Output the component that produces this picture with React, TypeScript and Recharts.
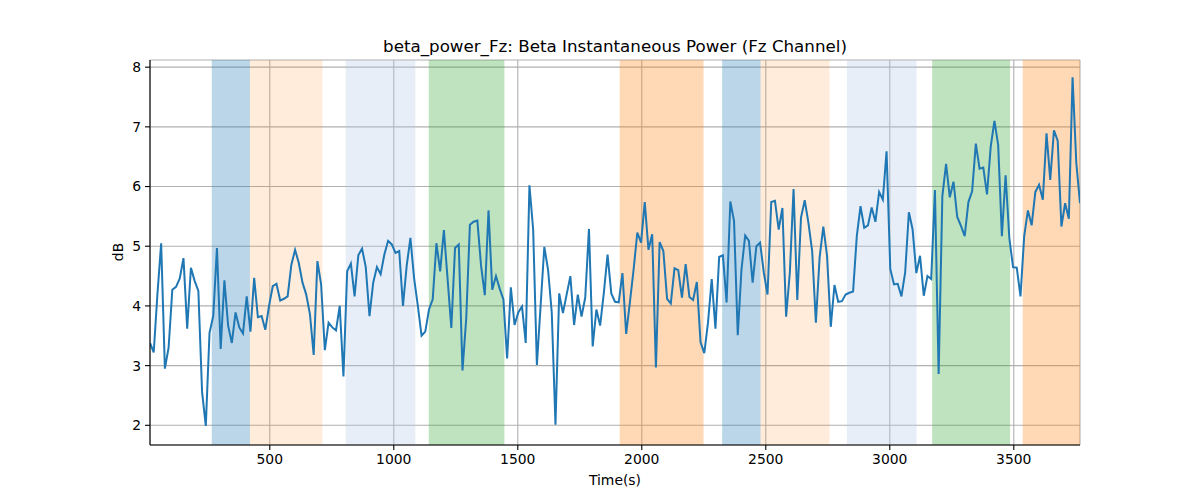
import { LineChart, Line, XAxis, YAxis, CartesianGrid, ReferenceArea } from "recharts";

// sampling of the power trace (seconds)
const T0 = 17;
const DT = 15;

// beta power, Fz channel (dB), one value per window
const POWER_DB = [
  3.38, 3.22, 4.2, 5.05, 2.95, 3.3, 4.27, 4.32, 4.46, 4.8,
  3.62, 4.64, 4.42, 4.25, 2.56, 1.99, 3.55, 3.83, 4.97, 3.28,
  4.43, 3.67, 3.38, 3.89, 3.64, 3.54, 4.16, 3.57, 4.47, 3.81,
  3.83, 3.6, 4.0, 4.33, 4.37, 4.09, 4.12, 4.16, 4.69, 4.94,
  4.72, 4.39, 4.19, 3.86, 3.18, 4.75, 4.36, 3.26, 3.72, 3.64,
  3.59, 4.0, 2.82, 4.58, 4.71, 4.16, 4.85, 4.96, 4.65, 3.83,
  4.39, 4.65, 4.53, 4.86, 5.09, 5.03, 4.89, 4.92, 4.0, 4.67,
  5.14, 4.46, 4.0, 3.5, 3.57, 3.94, 4.11, 5.05, 4.58, 5.27,
  4.45, 3.63, 4.97, 5.03, 2.92, 3.78, 5.36, 5.41, 5.43, 4.67,
  4.18, 5.6, 4.27, 4.5, 4.29, 4.11, 3.12, 4.31, 3.68, 3.89,
  3.99, 3.38, 6.02, 5.28, 3.01, 4.0, 4.99, 4.61, 3.89, 2.01,
  4.21, 3.88, 4.19, 4.5, 3.68, 4.19, 3.82, 4.14, 5.29, 3.32,
  3.94, 3.67, 4.22, 4.86, 4.21, 4.07, 4.06, 4.55, 3.53, 4.06,
  4.61, 5.23, 5.06, 5.74, 4.94, 5.2, 2.97, 5.07, 4.92, 4.12,
  4.04, 4.63, 4.6, 4.14, 4.7, 4.15, 4.1, 4.4, 3.39, 3.21,
  3.72, 4.45, 3.62, 4.82, 4.85, 4.06, 5.75, 5.42, 3.51, 4.61,
  5.18, 5.09, 4.39, 5.0, 5.06, 4.56, 4.19, 5.74, 5.76, 5.28,
  5.64, 3.82, 4.56, 5.96, 4.1, 5.48, 5.77, 5.39, 4.92, 3.72,
  4.81, 5.33, 4.84, 3.65, 4.35, 4.07, 4.08, 4.19, 4.22, 4.24,
  5.17, 5.67, 5.31, 5.35, 5.65, 5.41, 5.91, 5.78, 6.59, 4.62,
  4.36, 4.37, 4.16, 4.56, 5.57, 5.28, 4.55, 4.84, 4.17, 4.5,
  4.45, 5.94, 2.86, 5.84, 6.38, 5.82, 6.08, 5.49, 5.34, 5.17,
  5.74, 5.92, 6.72, 6.3, 6.32, 5.87, 6.67, 7.1, 6.7, 5.17,
  6.19, 5.14, 4.65, 4.64, 4.16, 5.17, 5.6, 5.35, 5.91, 6.03,
  5.78, 6.89, 6.11, 6.94, 6.77, 5.33, 5.72, 5.46, 7.83, 6.4,
  5.72,
];

// shaded task segments (seconds)
const BANDS = [
  { start: 266, end: 420, kind: "blue" },
  { start: 420, end: 712, kind: "orangeLight" },
  { start: 806, end: 1087, kind: "blueLight" },
  { start: 1141, end: 1446, kind: "green" },
  { start: 1911, end: 2249, kind: "orange" },
  { start: 2324, end: 2479, kind: "blue" },
  { start: 2479, end: 2757, kind: "orangeLight" },
  { start: 2827, end: 3108, kind: "blueLight" },
  { start: 3171, end: 3485, kind: "green" },
  { start: 3536, end: 3767, kind: "orange" },
];

const X_TICKS = [500, 1000, 1500, 2000, 2500, 3000, 3500];
const Y_TICKS = [2, 3, 4, 5, 6, 7, 8];

const BAND_STYLE: Record<string, { fill: string; opacity: number }> = {
  blue: { fill: "#1f77b4", opacity: 0.3 },
  orangeLight: { fill: "#ff7f0e", opacity: 0.15 },
  blueLight: { fill: "#aec7e8", opacity: 0.3 },
  green: { fill: "#2ca02c", opacity: 0.3 },
  orange: { fill: "#ff7f0e", opacity: 0.3 },
};

const FONT = "'DejaVu Sans', sans-serif";
const X_DOMAIN: [number, number] = [17, 3767];
const Y_DOMAIN: [number, number] = [1.67, 8.12];

export default function App() {
  const data = POWER_DB.map((db, i) => ({ t: T0 + DT * i, db }));
  const tickStyle = { fill: "#000", fontSize: 13.9, fontFamily: FONT };

  return (
    <div style={{ position: "relative", width: 1200, height: 500, fontFamily: FONT, background: "#fff" }}>
      <style>{`body { margin: 0; }`}</style>
      <LineChart
        width={1200}
        height={500}
        data={data}
        margin={{ top: 60, right: 120, bottom: 25, left: 90 }}
      >
        {BANDS.map((b, i) => (
          <ReferenceArea
            key={i}
            x1={b.start}
            x2={b.end}
            fill={BAND_STYLE[b.kind].fill}
            fillOpacity={BAND_STYLE[b.kind].opacity}
            stroke="none"
          />
        ))}
        <CartesianGrid stroke="#b0b0b0" strokeWidth={1.1} />
        <XAxis
          dataKey="t"
          type="number"
          domain={X_DOMAIN}
          ticks={X_TICKS}
          allowDataOverflow
          height={30}
          tick={tickStyle}
          tickSize={5}
          tickMargin={4}
          tickLine={{ stroke: "#000", strokeWidth: 1.1 }}
          axisLine={{ stroke: "#000", strokeWidth: 1.1 }}
        />
        <YAxis
          type="number"
          domain={Y_DOMAIN}
          ticks={Y_TICKS}
          allowDataOverflow
          width={60}
          tick={tickStyle}
          tickSize={5}
          tickMargin={4}
          tickLine={{ stroke: "#000", strokeWidth: 1.1 }}
          axisLine={{ stroke: "#000", strokeWidth: 1.1 }}
        />
        <XAxis
          xAxisId="top"
          orientation="top"
          type="number"
          domain={X_DOMAIN}
          allowDataOverflow
          height={0}
          tick={false}
          tickLine={false}
          axisLine={{ stroke: "#000", strokeWidth: 1.1 }}
        />
        <YAxis
          yAxisId="right"
          orientation="right"
          type="number"
          domain={Y_DOMAIN}
          allowDataOverflow
          width={0}
          tick={false}
          tickLine={false}
          axisLine={{ stroke: "#000", strokeWidth: 1.1 }}
        />
        <Line
          type="linear"
          dataKey="db"
          stroke="#1f77b4"
          strokeWidth={2}
          dot={false}
          activeDot={false}
          isAnimationActive={false}
        />
      </LineChart>
      <div
        style={{
          position: "absolute",
          left: 150,
          width: 930,
          top: 36,
          lineHeight: "20px",
          fontSize: 16.7,
          textAlign: "center",
        }}
      >
        beta_power_Fz: Beta Instantaneous Power (Fz Channel)
      </div>
      <div
        style={{
          position: "absolute",
          left: 150,
          width: 930,
          top: 472,
          lineHeight: "16px",
          fontSize: 13.9,
          textAlign: "center",
        }}
      >
        Time(s)
      </div>
      <div
        style={{
          position: "absolute",
          left: 98,
          top: 244,
          width: 40,
          lineHeight: "16px",
          fontSize: 13.9,
          textAlign: "center",
          transform: "rotate(-90deg)",
        }}
      >
        dB
      </div>
    </div>
  );
}
